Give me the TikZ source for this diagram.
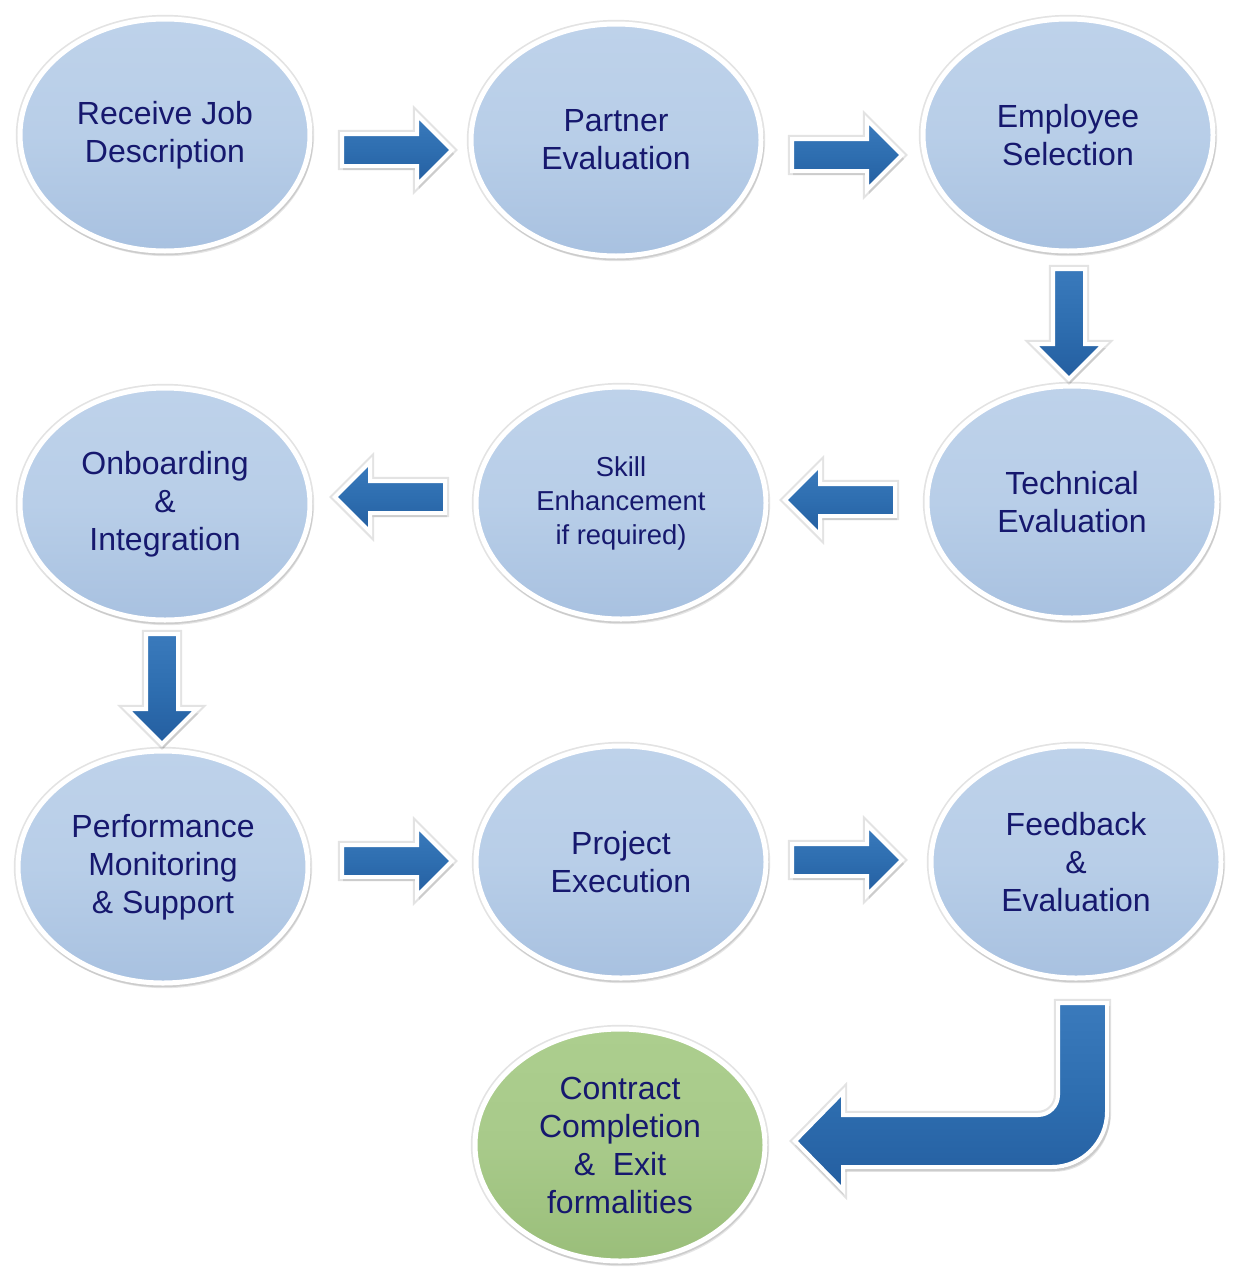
\documentclass[tikz,border=0pt]{standalone}
\usepackage{fontspec}
\setmainfont{Liberation Sans}
\usetikzlibrary{shapes.geometric,shapes.arrows,shadows}
\definecolor{txt}{RGB}{22,24,110}
\definecolor{bluetop}{RGB}{190,210,234}
\definecolor{bluemid}{RGB}{184,206,232}
\definecolor{bluebot}{RGB}{168,193,224}
\definecolor{greentop}{RGB}{172,206,142}
\definecolor{greenmid}{RGB}{168,202,138}
\definecolor{greenbot}{RGB}{154,190,122}
\definecolor{arrtop}{RGB}{58,122,188}
\definecolor{arrmid}{RGB}{46,110,176}
\definecolor{arrbot}{RGB}{36,94,160}
\tikzset{
  softshadow/.style={
    drop shadow={shadow xshift=0.8pt, shadow yshift=-2.0pt, opacity=0.10, fill=black, shadow scale=1.01},
    drop shadow={shadow xshift=0.4pt, shadow yshift=-1.0pt, opacity=0.16, fill=black},
    preaction={draw=black, draw opacity=0.11, line width=4.2pt}},
  stage/.style={ellipse, minimum width=145pt, minimum height=116pt, inner sep=0pt,
    draw=white, line width=2.5pt, top color=bluetop, bottom color=bluebot, middle color=bluemid,
    text=txt, align=center, font=\fontsize{16}{19}\selectfont, softshadow},
  finalstage/.style={stage, top color=greentop, bottom color=greenbot, middle color=greenmid},
  flow/.style={single arrow, single arrow head extend=9.5pt, single arrow tip angle=90,
    minimum height=55pt, inner xsep=0pt, inner ysep=7pt, text height=0pt, text depth=0pt,
    draw=white, line width=2pt, top color=arrtop, bottom color=arrbot, middle color=arrmid,
    anchor=tail, softshadow},
  flowleft/.style={flow, shape border rotate=180},
  flowdown/.style={flow, rotate=90, shape border rotate=180},
  bentarrow/.style={draw=white, line width=2pt, top color=arrtop, bottom color=arrbot, middle color=arrmid, softshadow}
}
\begin{document}
\begin{tikzpicture}[x=0.5pt,y=-0.5pt]
\useasboundingbox (0,0) rectangle (1240,1280);
% stages
\node[stage] (rjd) at (165,135) {Receive Job\\Description};
\node[stage] (pe)  at (616,140) {Partner\\Evaluation};
\node[stage] (es)  at (1068,135) {Employee\\Selection};
\node[stage] (te)  at (1072,502) {Technical\\Evaluation};
\node[stage, font=\fontsize{13.7}{17}\selectfont] (se) at (621,503) {Skill\\Enhancement\\if required)};
\node[stage] (oi)  at (165,504) {Onboarding\\\&\\Integration};
\node[stage] (pm)  at (163,867) {Performance\\Monitoring\\\& Support};
\node[stage] (px)  at (621,862) {Project\\Execution};
\node[stage] (fe)  at (1076,862) {Feedback\\\&\\Evaluation};
\node[finalstage] (cc) at (620,1145) {Contract\\Completion\\\&\ \ Exit\\formalities};
% arrows
\node[flow] (a1) at (340,150) {};
\node[flow] (a2) at (790,155) {};
\node[flowdown] (a3) at (1069,267) {};
\node[flowleft] (a4) at (897,500) {};
\node[flowleft] (a5) at (447,497) {};
\node[flowdown] (a6) at (162,632) {};
\node[flow] (a7) at (340,861) {};
\node[flow] (a8) at (790,860) {};
% bent arrow from Feedback to Contract
\coordinate (bstart) at (1058,1003);
\coordinate (btip) at (795,1141);
\path[bentarrow] (bstart) -- (1107,1003) -- (1107,1112)
  .. controls (1107,1142) and (1082,1167) .. (1052,1167)
  -- (843,1167) -- (843,1190) -- (btip) -- (843,1092) -- (843,1115) -- (1038,1115)
  .. controls (1049,1115) and (1058,1106) .. (1058,1095) -- cycle;
\end{tikzpicture}
\end{document}
